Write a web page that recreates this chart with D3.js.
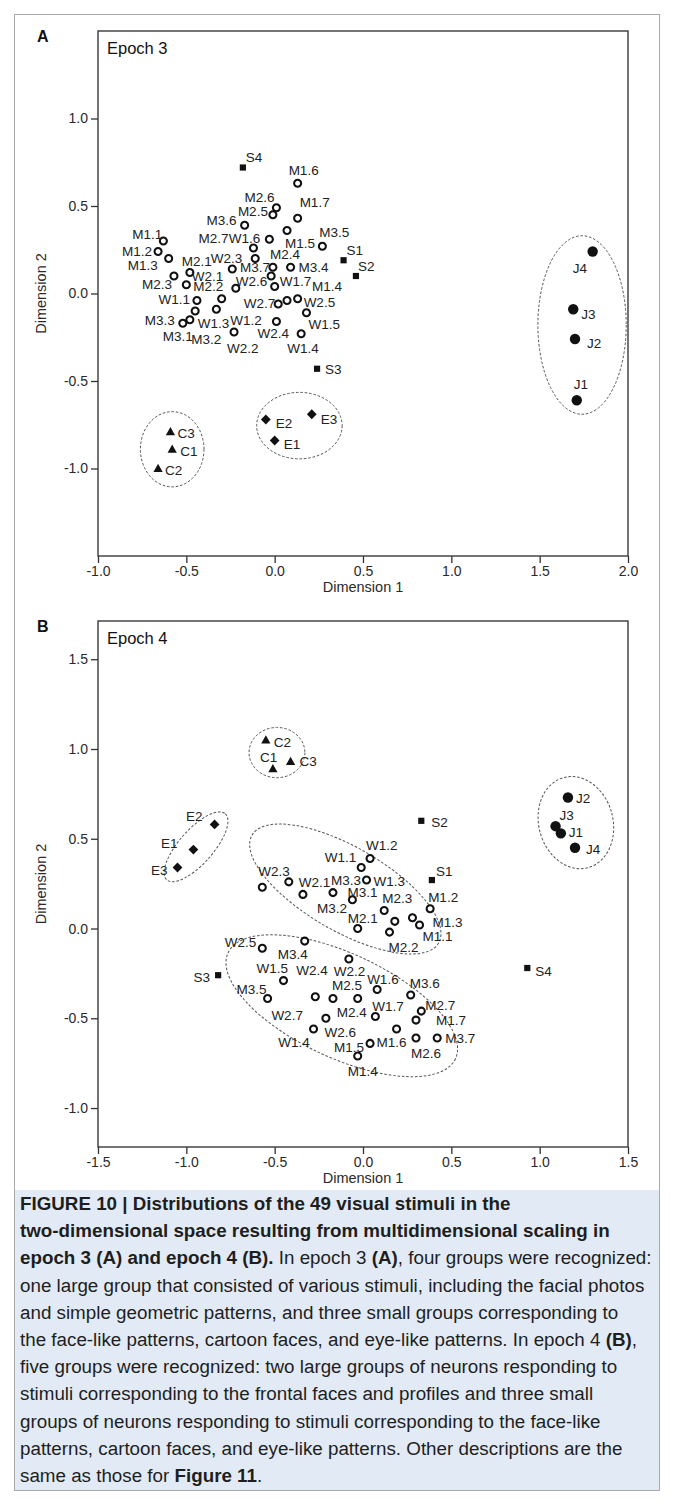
<!DOCTYPE html>
<html>
<head>
<meta charset="utf-8">
<script src="https://cdn.jsdelivr.net/npm/d3@7"></script>
<style>
  html, body { margin: 0; padding: 0; background: #fff; }
  svg { display: block; font-family: "Liberation Sans", Arial, Helvetica, sans-serif; }
</style>
</head>
<body>
<svg id="fig" width="673" height="1504"></svg>
<script>
// ---------- Epoch 3: MDS coordinates of the 49 stimuli ----------
const epoch3Stimuli = [
  "M1.1","M1.2","M1.3","M1.4","M1.5","M1.6","M1.7",
  "M2.1","M2.2","M2.3","M2.4","M2.5","M2.6","M2.7",
  "M3.1","M3.2","M3.3","M3.4","M3.5","M3.6","M3.7",
  "W1.1","W1.2","W1.3","W1.4","W1.5","W1.6","W1.7",
  "W2.1","W2.2","W2.3","W2.4","W2.5","W2.6","W2.7",
  "S1","S2","S3","S4","J1","J2","J3","J4","C1","C2","C3","E1","E2","E3"
];
const epoch3Dim1 = [
  -0.63,-0.66,-0.60, 0.07, 0.07, 0.13, 0.13,
  -0.48,-0.50,-0.57,-0.01,-0.01, 0.01,-0.12,
  -0.48,-0.45,-0.52, 0.09, 0.27,-0.17,-0.02,
  -0.44,-0.33,-0.30, 0.15, 0.18,-0.03, 0.00,
  -0.24,-0.23,-0.11, 0.01, 0.13,-0.22, 0.02,
   0.39, 0.46, 0.24,-0.18, 1.71, 1.70, 1.69, 1.80,-0.58,-0.66,-0.59, 0.00,-0.05, 0.21
];
const epoch3Dim2 = [
   0.30, 0.24, 0.20,-0.04, 0.36, 0.63, 0.43,
   0.12, 0.05, 0.10, 0.15, 0.45, 0.49, 0.26,
  -0.15,-0.10,-0.17, 0.15, 0.27, 0.39, 0.10,
  -0.04,-0.09,-0.03,-0.23,-0.11, 0.31, 0.04,
   0.14,-0.22, 0.20,-0.16,-0.03, 0.03,-0.06,
   0.19, 0.10,-0.43, 0.72,-0.61,-0.26,-0.09, 0.24,-0.89,-1.00,-0.79,-0.84,-0.72,-0.69
];

// ---------- Epoch 4: MDS coordinates of the 49 stimuli ----------
const epoch4Stimuli = epoch3Stimuli.slice();
const epoch4Dim1 = [
   0.28, 0.38, 0.32,-0.03, 0.04, 0.19, 0.30,
  -0.03, 0.15, 0.12,-0.03,-0.17, 0.30, 0.33,
  -0.06,-0.34,-0.17,-0.33,-0.54, 0.27, 0.42,
  -0.01, 0.04, 0.02, 0.18,-0.45, 0.08, 0.07,
  -0.42,-0.08,-0.57,-0.27,-0.57,-0.28,-0.21,
   0.39, 0.33,-0.82, 0.93, 1.12, 1.16, 1.09, 1.20,-0.51,-0.55,-0.41,-0.96,-0.84,-1.05
];
const epoch4Dim2 = [
   0.06, 0.11, 0.02,-0.71,-0.64,-0.56,-0.51,
   0.00,-0.02, 0.10,-0.39,-0.39,-0.61,-0.46,
   0.16, 0.19, 0.20,-0.07,-0.39,-0.37,-0.61,
   0.34, 0.39, 0.27, 0.04,-0.29,-0.34,-0.49,
   0.26,-0.17, 0.23,-0.38,-0.11,-0.56,-0.50,
   0.27, 0.60,-0.26,-0.22, 0.53, 0.73, 0.57, 0.45, 0.89, 1.05, 0.93, 0.44, 0.58, 0.34
];

// Axis ticks
const epoch3TicksDim1 = [-1.0, -0.5, 0.0, 0.5, 1.0, 1.5, 2.0];
const epoch3TicksDim2 = [-1.0, -0.5, 0.0, 0.5, 1.0];
const epoch4TicksDim1 = [-1.5, -1.0, -0.5, 0.0, 0.5, 1.0, 1.5];
const epoch4TicksDim2 = [-1.0, -0.5, 0.0, 0.5, 1.0, 1.5];

// Groups outlined with dashed ellipses: centre, semi-axes (data units), tilt in degrees
const epoch3Groups = [
  { cx: 1.74, cy: -0.18, rx: 0.25, ry: 0.51, tilt: 0 },
  { cx: -0.58, cy: -0.89, rx: 0.18, ry: 0.215, tilt: 0 },
  { cx: 0.14, cy: -0.755, rx: 0.242, ry: 0.19, tilt: 0 }
];
const epoch4Groups = [
  { cx: -0.10, cy: 0.22, rx: 0.61, ry: 0.234, tilt: 30 },
  { cx: -0.12, cy: -0.43, rx: 0.71, ry: 0.29, tilt: 25 },
  { cx: 1.205, cy: 0.59, rx: 0.21, ry: 0.26, tilt: -15 },
  { cx: -0.487, cy: 0.98, rx: 0.158, ry: 0.14, tilt: 0 },
  { cx: -0.945, cy: 0.455, rx: 0.25, ry: 0.095, tilt: -48.5 }
];

// Label placement next to each marker: [dx px, dy px, text-anchor]
const epoch3LabelPlace = {
  "M1.1":[-1,-7,"end"], "M1.2":[-6,0,"end"], "M1.3":[-11,7,"end"], "M2.3":[-2,8,"end"],
  "M2.1":[-8,-11,"start"], "M2.2":[7,1,"start"], "M1.6":[-9,-13,"start"], "M2.6":[-2,-11,"end"],
  "M2.5":[-5,-4,"end"], "M1.7":[2,-16,"start"], "M3.6":[-8,-5,"end"], "M1.5":[-2,13,"start"],
  "M3.5":[-3,-14,"start"], "W1.6":[-9,-1,"end"], "M2.7":[-25,-10,"end"], "W2.3":[-13,0,"end"],
  "W2.1":[-9,7,"end"], "M2.4":[-3,-13,"start"], "M3.4":[8,0,"start"], "M3.7":[-1,-9,"end"],
  "W1.7":[5,-5,"start"], "W2.6":[0,-7,"start"], "W1.1":[-7,-1,"end"], "M3.2":[-4,28,"start"],
  "W1.2":[14,11,"start"], "W1.3":[-24,24,"start"], "M3.1":[3,16,"end"], "M3.3":[-8,-3,"end"],
  "W2.7":[-3,-1,"end"], "M1.4":[25,-14,"start"], "W2.5":[6,3,"start"], "W1.5":[2,11,"start"],
  "W2.4":[-19,12,"start"], "W2.2":[-7,16,"start"], "W1.4":[-14,14,"start"],
  "S1":[3,-10,"start"], "S2":[2,-10,"start"], "S3":[8,0,"start"], "S4":[3,-10,"start"],
  "J1":[-3,-16,"start"], "J2":[12,4,"start"], "J3":[8,5,"start"], "J4":[-20,17,"start"],
  "C1":[8,2,"start"], "C2":[7,2,"start"], "C3":[7,1,"start"],
  "E1":[9,4,"start"], "E2":[10,4,"start"], "E3":[9,5,"start"]
};
const epoch4LabelPlace = {
  "W1.2":[-4,-13,"start"], "W1.1":[-5,-10,"end"], "W1.3":[7,1,"start"], "W2.3":[-4,-16,"start"],
  "W2.1":[10,0,"start"], "M3.2":[14,14,"start"], "M3.3":[-2,-12,"start"], "M3.1":[-5,-8,"start"],
  "M2.3":[-2,-12,"start"], "M1.2":[-2,-12,"start"], "M2.1":[-10,-10,"start"], "M1.3":[13,-3,"start"],
  "M1.1":[10,18,"start"], "M2.2":[-1,15,"start"], "W1.4":[-85,121,"end"],
  "M3.4":[3,13,"end"], "W2.5":[-6,-6,"end"], "W2.2":[-15,12,"start"], "W1.5":[-27,-12,"start"],
  "M3.5":[-1,-9,"end"], "W2.4":[-19,-27,"start"], "M2.5":[-1,-13,"start"], "M2.4":[-21,14,"start"],
  "W1.6":[-10,-10,"start"], "M3.6":[-1,-12,"start"], "W2.7":[-23,-3,"end"], "W1.7":[-3,-10,"start"],
  "M2.7":[4,-6,"start"], "M1.7":[20,0,"start"], "W2.6":[11,3,"start"], "M1.6":[-20,13,"start"],
  "M1.5":[-6,4,"end"], "M2.6":[-5,15,"start"], "M3.7":[8,0,"start"], "M1.4":[-10,15,"start"],
  "S1":[4,-9,"start"], "S2":[10,1,"start"], "S3":[-8,2,"end"], "S4":[8,3,"start"],
  "J1":[8,-1,"start"], "J2":[8,1,"start"], "J3":[4,-11,"start"], "J4":[11,1,"start"],
  "C1":[-13,-12,"start"], "C2":[8,2,"start"], "C3":[9,0,"start"],
  "E1":[-16,-6,"end"], "E2":[-12,-8,"end"], "E3":[-10,3,"end"]
};

const captionLines = [
  [["FIGURE 10 | Distributions of the 49 visual stimuli in the", true]],
  [["two-dimensional space resulting from multidimensional scaling in", true]],
  [["epoch 3 (A) and epoch 4 (B).", true], [" In epoch 3 ", false], ["(A)", true], [", four groups were recognized:", false]],
  [["one large group that consisted of various stimuli, including the facial photos", false]],
  [["and simple geometric patterns, and three small groups corresponding to", false]],
  [["the face-like patterns, cartoon faces, and eye-like patterns. In epoch 4 ", false], ["(B)", true], [",", false]],
  [["five groups were recognized: two large groups of neurons responding to", false]],
  [["stimuli corresponding to the frontal faces and profiles and three small", false]],
  [["groups of neurons responding to stimuli corresponding to the face-like", false]],
  [["patterns, cartoon faces, and eye-like patterns. Other descriptions are the", false]],
  [["same as those for ", false], ["Figure 11", true], [".", false]]
];

// ---------- drawing ----------
const svg = d3.select("#fig");
const INK = "#1e1e1e";

// outer figure frame and caption panel
svg.append("rect").attr("x", 14.5).attr("y", 14.5).attr("width", 645).attr("height", 1476)
  .attr("fill", "#fff").attr("stroke", "#a9a9a9").attr("stroke-width", 1);
svg.append("rect").attr("x", 15).attr("y", 1190).attr("width", 644).attr("height", 300)
  .attr("fill", "#e2ebf5");

const fmt = d => d.toFixed(1);

function markerPath(kind) {
  if (kind === "C") return "M0,-4.8L4.6,3.4L-4.6,3.4Z";
  if (kind === "E") return "M0,-4.9L4.9,0L0,4.9L-4.9,0Z";
  if (kind === "S") return "M-3.1,-3.1H3.1V3.1H-3.1Z";
  return null;
}

function drawPanel(p) {
  const x = d3.scaleLinear().domain(p.xDomain).range([98, 628]);
  const y = d3.scaleLinear().domain(p.yDomain).range([p.bottom, p.top]);
  const g = svg.append("g");

  // ticks
  const ax = g.append("g").attr("transform", `translate(0,${p.bottom})`)
    .call(d3.axisBottom(x).tickValues(p.xTicks).tickFormat(fmt).tickSize(7).tickPadding(3));
  const ay = g.append("g").attr("transform", "translate(98,0)")
    .call(d3.axisLeft(y).tickValues(p.yTicks).tickFormat(fmt).tickSize(7).tickPadding(3));
  [ax, ay].forEach(a => {
    a.select(".domain").remove();
    a.selectAll(".tick line").attr("stroke", "#333").attr("stroke-width", 1.3);
    a.selectAll(".tick text").attr("fill", "#2a2a2a").style("font-size", "14px")
      .style("font-family", '"Liberation Sans", Arial, sans-serif');
  });

  // plot frame
  g.append("rect").attr("x", 98).attr("y", p.top).attr("width", 530).attr("height", p.bottom - p.top)
    .attr("fill", "none").attr("stroke", "#3a3a3a").attr("stroke-width", 1.4);

  // axis titles
  g.append("text").attr("x", 363).attr("y", p.bottom + 36).attr("text-anchor", "middle")
    .attr("fill", "#2a2a2a").style("font-size", "14.5px").text("Dimension 1");
  g.append("text").attr("transform", `translate(46,${(p.top + p.bottom) / 2}) rotate(-90)`)
    .attr("text-anchor", "middle").attr("fill", "#2a2a2a").style("font-size", "14.5px").text("Dimension 2");

  // panel letter and title
  g.append("text").attr("x", 37).attr("y", p.top + 11).attr("fill", "#111")
    .style("font-size", "16px").style("font-weight", "bold").text(p.tag);
  g.append("text").attr("x", 107).attr("y", p.top + 23).attr("fill", "#111")
    .style("font-size", "16.5px").text(p.title);

  // group ellipses
  const kx = x(1) - x(0), ky = y(0) - y(1);
  g.selectAll("ellipse.grp").data(p.groups).join("ellipse")
    .attr("class", "grp")
    .attr("transform", d => `translate(${x(d.cx)},${y(d.cy)}) rotate(${d.tilt})`)
    .attr("rx", d => d.rx * kx).attr("ry", d => d.ry * ky)
    .attr("fill", "none").attr("stroke", "#555").attr("stroke-width", 1)
    .attr("stroke-dasharray", "2.6,1.8");

  const pts = p.names.map((n, i) => ({ name: n, d1: p.d1[i], d2: p.d2[i], kind: n[0] }));

  // markers
  const mk = g.selectAll("g.pt").data(pts).join("g").attr("class", "pt")
    .attr("transform", d => `translate(${x(d.d1)},${y(d.d2)})`);
  mk.filter(d => d.kind === "M" || d.kind === "W").append("circle")
    .attr("r", 3.5).attr("fill", "#fff").attr("stroke", "#111").attr("stroke-width", 2.1);
  mk.filter(d => d.kind === "J").append("circle").attr("r", 5.2).attr("fill", "#111");
  mk.filter(d => markerPath(d.kind)).append("path").attr("d", d => markerPath(d.kind)).attr("fill", "#111");

  // labels
  g.selectAll("text.lbl").data(pts).join("text").attr("class", "lbl")
    .attr("x", d => x(d.d1) + p.place[d.name][0])
    .attr("y", d => y(d.d2) + p.place[d.name][1])
    .attr("dy", "0.36em")
    .attr("text-anchor", d => p.place[d.name][2])
    .attr("fill", "#222").style("font-size", "13.5px")
    .text(d => d.name);
}

drawPanel({
  tag: "A", title: "Epoch 3",
  names: epoch3Stimuli, d1: epoch3Dim1, d2: epoch3Dim2,
  xDomain: [-1, 2], yDomain: [-1.5, 1.5], top: 31, bottom: 556,
  xTicks: epoch3TicksDim1, yTicks: epoch3TicksDim2,
  groups: epoch3Groups, place: epoch3LabelPlace
});
drawPanel({
  tag: "B", title: "Epoch 4",
  names: epoch4Stimuli, d1: epoch4Dim1, d2: epoch4Dim2,
  xDomain: [-1.5, 1.5], yDomain: [-1.217, 1.713], top: 621, bottom: 1147,
  xTicks: epoch4TicksDim1, yTicks: epoch4TicksDim2,
  groups: epoch4Groups, place: epoch4LabelPlace
});

// caption
const cap = svg.append("text").attr("fill", INK).style("font-size", "18.8px");
captionLines.forEach((line, i) => {
  const t = cap.append("tspan").attr("x", 20).attr("y", 1210 + i * 27.2);
  line.forEach(([s, b], j) => {
    const sp = j === 0 ? t : cap.append("tspan");
    sp.text(s).style("font-weight", b ? "bold" : "normal");
  });
});
</script>
</body>
</html>
